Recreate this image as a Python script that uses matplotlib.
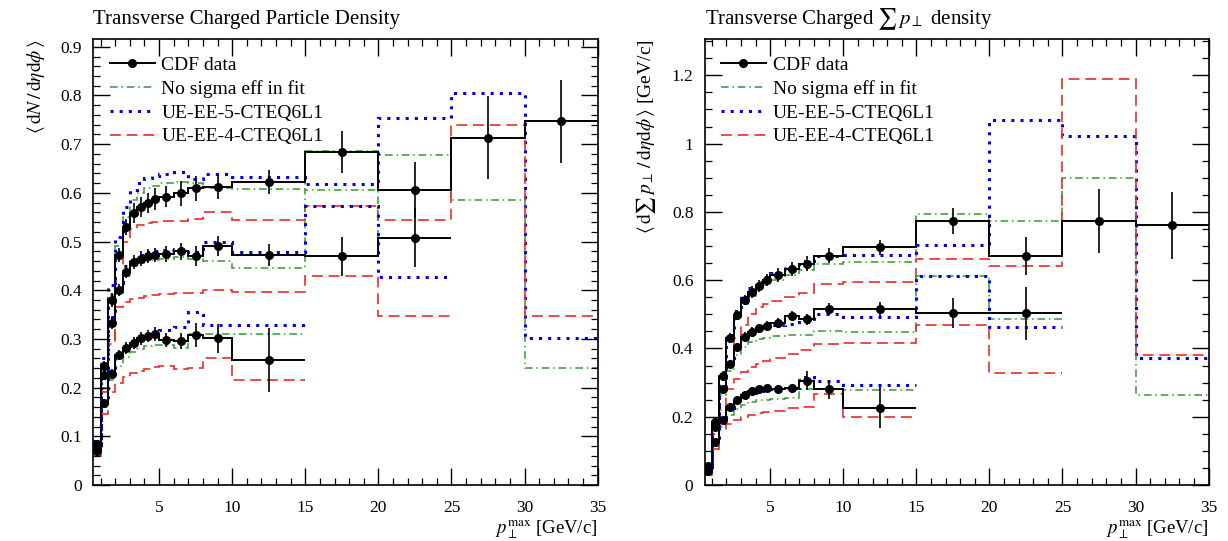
import matplotlib
matplotlib.use('Agg')
import matplotlib.pyplot as plt
import numpy as np
from matplotlib.ticker import MultipleLocator, FormatStrFormatter

plt.rcParams['font.family'] = 'serif'
plt.rcParams['font.serif'] = ['Liberation Serif', 'DejaVu Serif']
plt.rcParams['mathtext.fontset'] = 'stix'

# bin edges of the CDF pTmax binning
edges = [0.5, 1.0, 1.5, 2.0, 2.5, 3.0, 3.5, 4.0, 4.5, 5.0, 6.0, 7.0, 8.0, 10.0, 15.0, 20.0, 25.0, 30.0, 35.0]
# 1960 GeV uses all 18 bins, 900 GeV the first 16, 300 GeV the first 14

# ---- left: charged particle density ----
nch_1960_data = [0.085, 0.245, 0.38, 0.472, 0.53, 0.559, 0.571, 0.579, 0.587, 0.592, 0.599, 0.609, 0.612, 0.622, 0.684, 0.606, 0.713, 0.747]
nch_1960_err = [0.005, 0.01, 0.015, 0.015, 0.017, 0.02, 0.02, 0.02, 0.022, 0.022, 0.025, 0.025, 0.025, 0.025, 0.043, 0.057, 0.085, 0.085]
nch_1960_nosig = [0.08, 0.25, 0.39, 0.49, 0.55, 0.585, 0.60, 0.61, 0.615, 0.62, 0.622, 0.62, 0.61, 0.608, 0.687, 0.677, 0.585, 0.24]
nch_1960_ee5 = [0.09, 0.26, 0.41, 0.51, 0.57, 0.605, 0.62, 0.63, 0.635, 0.638, 0.642, 0.628, 0.638, 0.632, 0.618, 0.753, 0.805, 0.302]
nch_1960_ee4 = [0.07, 0.2, 0.3, 0.42, 0.5, 0.525, 0.535, 0.538, 0.54, 0.542, 0.543, 0.546, 0.56, 0.545, 0.572, 0.544, 0.739, 0.347]

nch_900_data = [0.075, 0.225, 0.333, 0.40, 0.438, 0.458, 0.465, 0.47, 0.472, 0.474, 0.48, 0.47, 0.491, 0.472, 0.47, 0.508]
nch_900_err = [0.005, 0.01, 0.012, 0.012, 0.013, 0.014, 0.015, 0.015, 0.015, 0.017, 0.018, 0.02, 0.02, 0.022, 0.04, 0.06]
nch_900_nosig = [0.075, 0.22, 0.33, 0.395, 0.43, 0.45, 0.455, 0.46, 0.462, 0.465, 0.468, 0.465, 0.46, 0.445, 0.605, 0.508]
nch_900_ee5 = [0.08, 0.23, 0.345, 0.415, 0.45, 0.465, 0.472, 0.478, 0.48, 0.482, 0.485, 0.478, 0.50, 0.478, 0.572, 0.428]
nch_900_ee4 = [0.065, 0.19, 0.29, 0.365, 0.375, 0.382, 0.385, 0.388, 0.39, 0.393, 0.395, 0.395, 0.40, 0.397, 0.43, 0.347]

nch_300_data = [0.07, 0.168, 0.229, 0.267, 0.281, 0.291, 0.301, 0.306, 0.31, 0.298, 0.296, 0.308, 0.301, 0.257]
nch_300_err = [0.005, 0.008, 0.01, 0.01, 0.012, 0.012, 0.013, 0.013, 0.014, 0.015, 0.016, 0.025, 0.03, 0.065]
nch_300_nosig = [0.07, 0.16, 0.215, 0.245, 0.262, 0.273, 0.28, 0.285, 0.288, 0.287, 0.282, 0.31, 0.31, 0.31]
nch_300_ee5 = [0.075, 0.175, 0.235, 0.27, 0.285, 0.295, 0.303, 0.308, 0.312, 0.318, 0.325, 0.355, 0.328, 0.328]
nch_300_ee4 = [0.06, 0.145, 0.19, 0.21, 0.222, 0.23, 0.235, 0.238, 0.242, 0.245, 0.238, 0.24, 0.26, 0.215]

# ---- right: charged sum pT density ----
ptsum_1960_data = [0.055, 0.185, 0.32, 0.43, 0.498, 0.542, 0.566, 0.583, 0.60, 0.615, 0.632, 0.648, 0.671, 0.696, 0.773, 0.671, 0.774, 0.761]
ptsum_1960_err = [0.005, 0.01, 0.012, 0.015, 0.015, 0.016, 0.017, 0.018, 0.018, 0.02, 0.02, 0.022, 0.022, 0.022, 0.037, 0.056, 0.094, 0.098]
ptsum_1960_nosig = [0.055, 0.18, 0.315, 0.425, 0.49, 0.53, 0.555, 0.572, 0.585, 0.6, 0.615, 0.63, 0.648, 0.652, 0.794, 0.774, 0.898, 0.263]
ptsum_1960_ee5 = [0.06, 0.19, 0.33, 0.44, 0.51, 0.555, 0.578, 0.595, 0.61, 0.622, 0.642, 0.655, 0.67, 0.675, 0.703, 1.069, 1.022, 0.371]
ptsum_1960_ee4 = [0.05, 0.15, 0.27, 0.36, 0.43, 0.47, 0.50, 0.52, 0.53, 0.54, 0.55, 0.562, 0.59, 0.596, 0.661, 0.642, 1.188, 0.381]

ptsum_900_data = [0.045, 0.17, 0.28, 0.355, 0.405, 0.434, 0.449, 0.459, 0.466, 0.475, 0.495, 0.485, 0.515, 0.515, 0.503, 0.503]
ptsum_900_err = [0.004, 0.008, 0.01, 0.012, 0.012, 0.013, 0.013, 0.014, 0.014, 0.015, 0.015, 0.017, 0.018, 0.02, 0.044, 0.078]
ptsum_900_nosig = [0.045, 0.16, 0.265, 0.335, 0.38, 0.405, 0.418, 0.427, 0.432, 0.436, 0.44, 0.44, 0.452, 0.449, 0.612, 0.485]
ptsum_900_ee5 = [0.05, 0.17, 0.285, 0.36, 0.41, 0.435, 0.45, 0.458, 0.463, 0.468, 0.472, 0.478, 0.50, 0.493, 0.612, 0.462]
ptsum_900_ee4 = [0.04, 0.13, 0.22, 0.28, 0.31, 0.33, 0.345, 0.355, 0.363, 0.372, 0.385, 0.395, 0.412, 0.417, 0.47, 0.329]

ptsum_300_data = [0.04, 0.125, 0.19, 0.229, 0.25, 0.265, 0.275, 0.28, 0.285, 0.28, 0.283, 0.305, 0.28, 0.226]
ptsum_300_err = [0.004, 0.006, 0.008, 0.01, 0.01, 0.01, 0.011, 0.011, 0.012, 0.012, 0.013, 0.028, 0.028, 0.06]
ptsum_300_nosig = [0.035, 0.115, 0.17, 0.205, 0.222, 0.235, 0.243, 0.248, 0.25, 0.253, 0.255, 0.28, 0.28, 0.278]
ptsum_300_ee5 = [0.04, 0.125, 0.185, 0.225, 0.245, 0.26, 0.27, 0.275, 0.278, 0.28, 0.285, 0.315, 0.305, 0.293]
ptsum_300_ee4 = [0.03, 0.105, 0.165, 0.18, 0.19, 0.2, 0.205, 0.21, 0.213, 0.218, 0.225, 0.229, 0.266, 0.198]

labels = ['CDF data', 'No sigma eff in fit', 'UE-EE-5-CTEQ6L1', 'UE-EE-4-CTEQ6L1']

green = '#339933'
blue = '#0000ee'
red = '#ee2a2a'


def draw_set(ax, data, err, nosig, ee5, ee4, first):
    n = len(data)
    e = np.array(edges[:n + 1])
    c = 0.5 * (e[:-1] + e[1:])
    ax.stairs(nosig, e, baseline=None, color=green, lw=1.1,
              linestyle=(0, (5, 2.5, 1, 2.5)), label=labels[1] if first else None)
    ax.stairs(ee5, e, baseline=None, color=blue, lw=2.2,
              linestyle=(0, (1, 2)), label=labels[2] if first else None)
    ax.stairs(ee4, e, baseline=None, color=red, lw=1.2,
              linestyle=(0, (6.5, 3.5)), label=labels[3] if first else None)
    ax.stairs(data, e, baseline=None, color='black', lw=1.4)
    ax.errorbar(c, data, yerr=err, fmt='o', color='black', ms=5.5,
                elinewidth=1.2, capsize=0)


def style_axis(ax, ymax, ymajor, yminor):
    ax.set_xlim(0.5, 35)
    ax.set_ylim(0, ymax)
    ax.xaxis.set_major_locator(MultipleLocator(5))
    ax.xaxis.set_minor_locator(MultipleLocator(1))
    ax.yaxis.set_major_locator(MultipleLocator(ymajor))
    ax.yaxis.set_minor_locator(MultipleLocator(yminor))
    ax.yaxis.set_major_formatter(FormatStrFormatter('%g'))
    ax.tick_params(which='both', direction='in', top=True, right=True, labelsize=12.5)
    ax.tick_params(which='major', length=12, width=1.0)
    ax.tick_params(which='minor', length=5, width=0.9)
    ax.tick_params(axis='x', which='major', pad=11)
    ax.tick_params(axis='y', which='major', pad=8)
    for s in ax.spines.values():
        s.set_linewidth(1.2)
    ax.set_xlabel(r'$p_{\perp}^{\mathrm{max}}$ [GeV/c]', loc='right', fontsize=13.5, labelpad=1)


fig = plt.figure(figsize=(12.28, 5.41), dpi=100)
ax1 = fig.add_axes([0.076, 0.1035, 0.4107, 0.8235])
ax2 = fig.add_axes([0.5737, 0.1035, 0.4105, 0.8235])

draw_set(ax1, nch_1960_data, nch_1960_err, nch_1960_nosig, nch_1960_ee5, nch_1960_ee4, True)
draw_set(ax1, nch_900_data, nch_900_err, nch_900_nosig, nch_900_ee5, nch_900_ee4, False)
draw_set(ax1, nch_300_data, nch_300_err, nch_300_nosig, nch_300_ee5, nch_300_ee4, False)
style_axis(ax1, 0.915, 0.1, 0.02)
ax1.set_ylabel(r'$\langle\,\mathrm{d}N\,/\,\mathrm{d}\eta\mathrm{d}\phi\,\rangle$', loc='top', fontsize=14, labelpad=10)
ax1.set_title('Transverse Charged Particle Density', loc='left', fontsize=15, pad=11)

draw_set(ax2, ptsum_1960_data, ptsum_1960_err, ptsum_1960_nosig, ptsum_1960_ee5, ptsum_1960_ee4, True)
draw_set(ax2, ptsum_900_data, ptsum_900_err, ptsum_900_nosig, ptsum_900_ee5, ptsum_900_ee4, False)
draw_set(ax2, ptsum_300_data, ptsum_300_err, ptsum_300_nosig, ptsum_300_ee5, ptsum_300_ee4, False)
style_axis(ax2, 1.305, 0.2, 0.05)
ax2.set_ylabel(r'$\langle\,\mathrm{d}\sum\, p_{\perp}\,/\,\mathrm{d}\eta\mathrm{d}\phi\,\rangle$ [GeV/c]', loc='top', fontsize=14, labelpad=10)
ax2.set_title(r'Transverse Charged $\sum\, p_{\perp}$ density', loc='left', fontsize=15, pad=11)

for ax in (ax1, ax2):
    data_handle = ax.errorbar([], [], fmt='-o', color='black', ms=5.5, lw=1.4)
    h, l = ax.get_legend_handles_labels()
    handles = [data_handle] + [hh for hh, ll in zip(h, l) if ll in labels[1:]]
    ax.legend(handles, labels, loc='upper left', frameon=False, fontsize=14,
              handlelength=2.3, borderaxespad=0.45, labelspacing=0.32, handletextpad=0.35)

fig.savefig('out.png', dpi=100)
